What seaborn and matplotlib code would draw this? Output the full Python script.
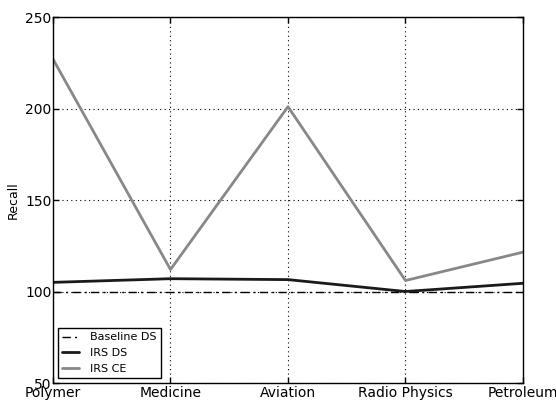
import matplotlib
matplotlib.use("Agg")
import matplotlib.pyplot as plt
import seaborn as sns
import pandas as pd

categories = ["Polymer", "Medicine", "Aviation", "Radio Physics", "Petroleum"]
baseline_ds = [100, 100, 100, 100, 100]
irs_ds = [105, 107, 106.5, 100, 104.5]
irs_ce = [227, 112, 201, 106, 121.5]

sns.set_style("white")
plt.rcParams["font.family"] = ["DejaVu Sans"]
plt.rcParams["text.color"] = "black"
plt.rcParams["axes.labelcolor"] = "black"
plt.rcParams["xtick.color"] = "black"
plt.rcParams["ytick.color"] = "black"

fig = plt.figure(figsize=(5.56, 4.03), dpi=100)
ax = fig.add_axes([0.0953, 0.0496, 0.8453, 0.9082])

pos = list(range(len(categories)))
df = pd.DataFrame({"x": pos, "Baseline DS": baseline_ds, "IRS DS": irs_ds, "IRS CE": irs_ce})

sns.lineplot(data=df, x="x", y="Baseline DS", ax=ax, color="black", lw=1.0,
             linestyle=(0, (6, 3, 1.5, 3)), label="Baseline DS")
sns.lineplot(data=df, x="x", y="IRS DS", ax=ax, color="#1a1a1a", lw=2.0, label="IRS DS")
sns.lineplot(data=df, x="x", y="IRS CE", ax=ax, color="#888888", lw=2.0, label="IRS CE")

ax.set_xlim(0, len(categories) - 1)
ax.set_ylim(50, 250)
ax.set_xticks(pos)
ax.set_xticklabels(categories, fontsize=10)
ax.set_yticks([50, 100, 150, 200, 250])
ax.tick_params(axis="y", labelsize=10, pad=1)
ax.tick_params(direction="in", length=4, width=1, top=True, right=True, bottom=True, left=True,
               color="black")
ax.tick_params(axis="x", pad=2)
ax.set_xlabel("")
ax.set_ylabel("Recall", fontsize=9, labelpad=4)
ax.grid(True, linestyle=(0, (1, 3)), color="black", linewidth=0.8)
for s in ax.spines.values():
    s.set_color("black")
    s.set_linewidth(1.0)

leg = ax.legend(loc="lower left", fontsize=8, frameon=True, fancybox=False,
                edgecolor="black", framealpha=1, borderaxespad=0.45,
                handlelength=1.5, handletextpad=1.0)
leg.get_frame().set_linewidth(1.0)

fig.savefig("out.png", dpi=100)
